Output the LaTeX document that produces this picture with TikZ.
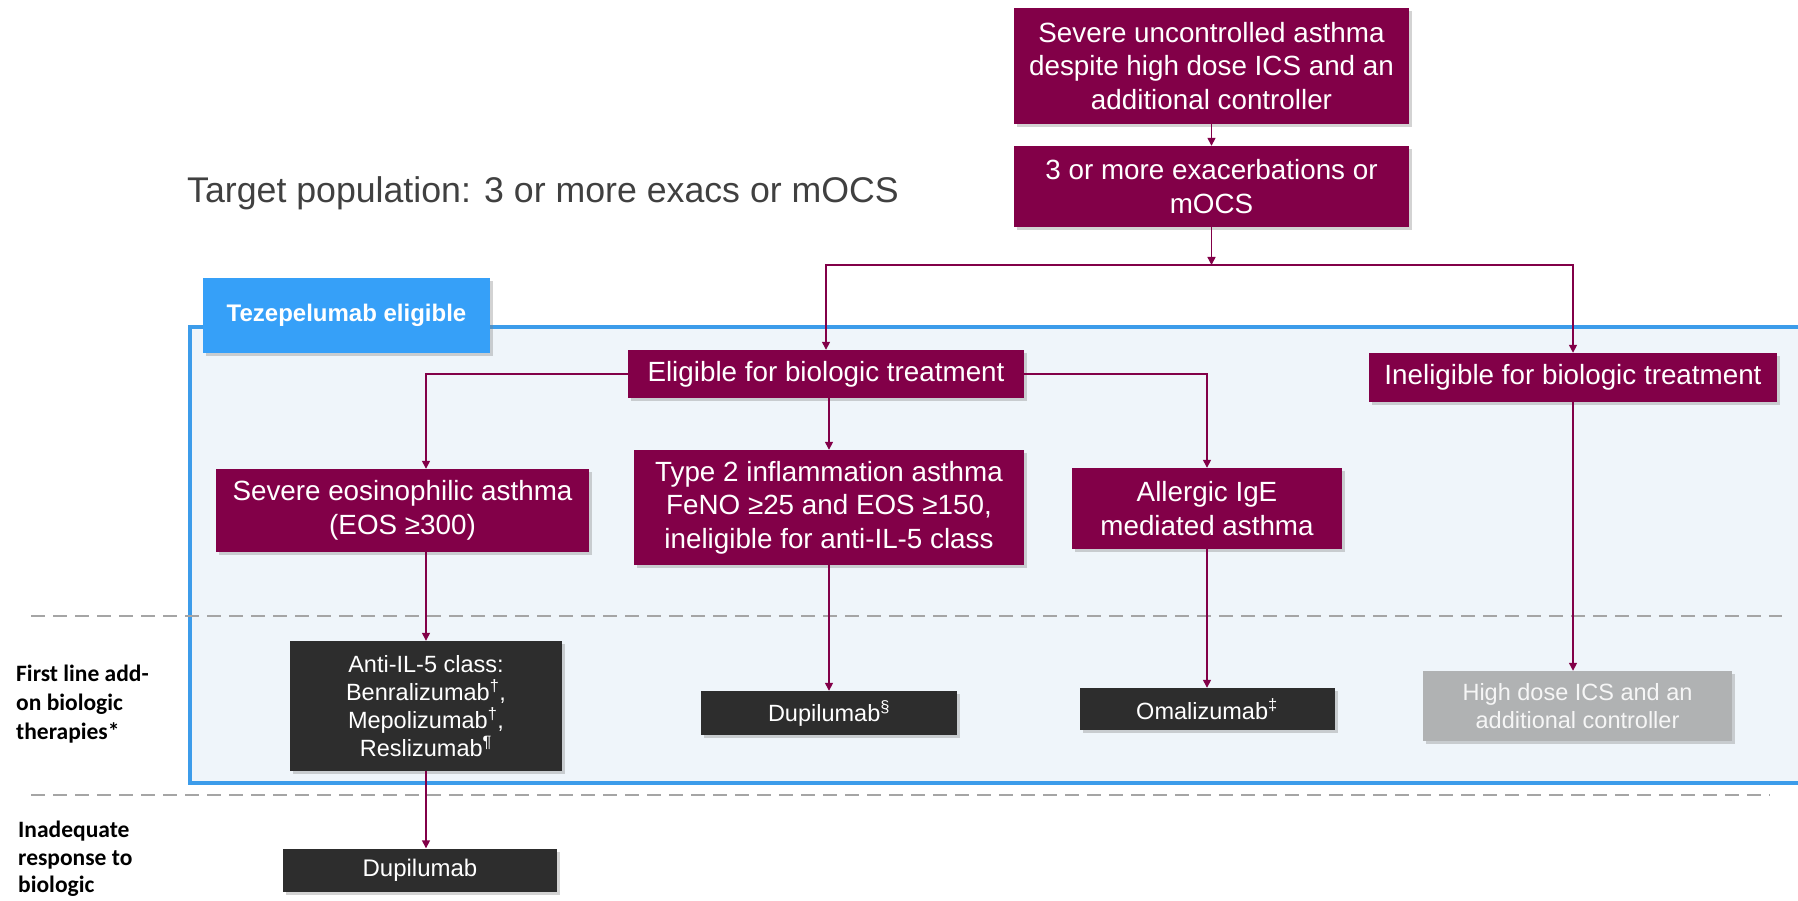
\documentclass[tikz,border=0pt]{standalone}
\usepackage{fontspec}
\setmainfont{Liberation Sans}
\newfontfamily\calib{Carlito}
\usetikzlibrary{arrows.meta,shadows}
\definecolor{maroon}{RGB}{130,0,72}
\definecolor{darkbox}{RGB}{45,45,45}
\definecolor{graybox}{RGB}{176,178,179}
\definecolor{tabblue}{RGB}{54,160,248}
\definecolor{frameblue}{RGB}{60,156,234}
\definecolor{framefill}{RGB}{239,245,250}
\definecolor{dashgray}{RGB}{165,165,165}
\definecolor{titlegray}{RGB}{64,64,64}
\tikzset{
  shd/.style={drop shadow={opacity=0.35,shadow xshift=3pt,shadow yshift=-3pt}},
  mbox/.style={fill=maroon,text=white,align=center,inner sep=0pt,shd,
    font=\fontsize{27.8}{33.5}\selectfont},
  dbox/.style={fill=darkbox,text=white,align=center,inner sep=0pt,shd,
    font=\fontsize{23.5}{28}\selectfont},
  gbox/.style={fill=graybox,text=white!93!gray,align=center,inner sep=0pt,shd,
    font=\fontsize{23.5}{28}\selectfont},
  arr/.style={draw=maroon,line width=1.4pt,-{Triangle[width=8pt,length=8pt]}},
  dline/.style={draw=dashgray,line width=1.2pt,dash pattern=on 14pt off 8pt},
  sidelab/.style={align=left,anchor=north west,inner sep=0pt,
    font=\calib\bfseries\fontsize{23.5}{29}\selectfont}
}
\begin{document}
\begin{tikzpicture}[x=1pt,y=-1pt]
\useasboundingbox (0,0) rectangle (1798,901);
\begin{scope}
\clip (0,0) rectangle (1798,901);
% frame
\draw[frameblue,fill=framefill,line width=3.5pt] (190,327) rectangle (1810,783);
% dashed separators
\coordinate (d1a) at (31,616); \coordinate (d1b) at (1782,616);
\coordinate (d2a) at (31,795); \coordinate (d2b) at (1770,795);
\draw[dline] (d1a) -- (d1b);
\draw[dline] (d2a) -- (d2b);
% tab
\node[fill=tabblue,text=white,font=\bfseries\fontsize{24}{28}\selectfont,
  minimum width=287pt,minimum height=75pt,inner sep=0pt,shd] (tab) at (346.5,315.5) {Tezepelumab eligible};
% title
\node[anchor=west,inner sep=0pt,text=titlegray,font=\fontsize{35.7}{40}\selectfont] (title) at (187,193) {Target population: 3 or more exacs or mOCS};
% top boxes
\node[mbox,minimum width=395pt,minimum height=116pt] (b1) at (1211.5,66) {Severe uncontrolled asthma\\despite high dose ICS and an\\additional controller};
\node[mbox,minimum width=395pt,minimum height=81pt] (b2) at (1211.5,186.5) {3 or more exacerbations or\\mOCS};
% level 2
\node[mbox,minimum width=396pt,minimum height=48pt] (elig) at (826,374) {Eligible for biologic treatment};
\node[mbox,minimum width=408pt,minimum height=49pt] (inelig) at (1573,377.5) {Ineligible for biologic treatment};
% level 3
\node[mbox,minimum width=373pt,minimum height=83pt] (sev) at (402.5,510.5) {Severe eosinophilic asthma\\(EOS ≥300)};
\node[mbox,minimum width=390pt,minimum height=115pt] (type2) at (829,507.5) {Type 2 inflammation asthma\\FeNO ≥25 and EOS ≥150,\\ineligible for anti-IL-5 class};
\node[mbox,minimum width=270pt,minimum height=81pt] (allerg) at (1207,508.5) {Allergic IgE\\mediated asthma};
% level 4
\node[dbox,minimum width=272pt,minimum height=130pt] (anti) at (426,706) {Anti-IL-5 class:\\Benralizumab\textsuperscript{†},\\Mepolizumab\textsuperscript{†},\\Reslizumab\textsuperscript{¶}};
\node[dbox,minimum width=256pt,minimum height=44pt] (dupi) at (829,713) {Dupilumab\textsuperscript{§}};
\node[dbox,minimum width=255pt,minimum height=42pt] (omal) at (1207,709) {Omalizumab\textsuperscript{‡}};
\node[gbox,minimum width=309pt,minimum height=70pt] (high) at (1577.5,706) {High dose ICS and an\\additional controller};
\node[dbox,minimum width=274pt,minimum height=43pt,font=\fontsize{24}{28}\selectfont] (dupi2) at (420,870) {Dupilumab};
% side labels
\node[sidelab] (lab1) at (16,665) {First line add-\\on biologic\\therapies*};
\node[sidelab,font=\calib\bfseries\fontsize{23.5}{27.5}\selectfont] (lab2) at (18,821) {Inadequate\\response to\\biologic};
% connectors
\coordinate (split) at (1211.5,265);
\draw[arr] (b1.south) -- (b2.north);
\draw[arr] (b2.south) -- (split);
\draw[arr] (split) -| (elig.north);
\draw[arr] (split) -| (inelig.north);
\draw[arr] (elig.west) -| (anti.north |- sev.north);
\draw[arr] (type2.north |- elig.south) -- (type2.north);
\draw[arr] (elig.east) -| (allerg.north);
\draw[arr] (anti.north |- sev.south) -- (anti.north);
\draw[arr] (type2.south) -- (dupi.north);
\draw[arr] (allerg.south) -- (omal.north);
\draw[arr] (inelig.south) -- (inelig.south |- high.north);
\draw[arr] (anti.south) -- (anti.south |- dupi2.north);
\end{scope}
\end{tikzpicture}
\end{document}
